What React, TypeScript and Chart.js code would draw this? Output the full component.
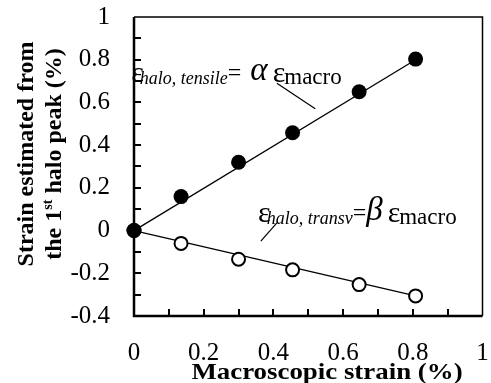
import React, { useEffect, useRef } from "react";
import { Chart, registerables } from "chart.js";

Chart.register(...registerables);

// ---- data ----
const macroStrain = [0, 0.135, 0.3, 0.455, 0.646, 0.808];
const tensileStrain = [0, 0.159, 0.32, 0.458, 0.65, 0.803];
const transvStrain = [0, -0.06, -0.134, -0.184, -0.253, -0.306];
const fitX = [0, 0.808];
const tensileFit = [0, 0.8];
const transvFit = [0, -0.306];
const xMin = 0, xMax = 1, xStep = 0.2;
const yMin = -0.4, yMax = 1, yStep = 0.2;
const minorStep = 0.1;

const xTitle = "Macroscopic strain (%)";
const yTitleLine1 = "Strain estimated from";
const yTitleLine2 = ["the 1", "st", " halo peak (%)"];

// annotation anchors (data units) and leader lines (data units)
const tensileLabelAt = [-0.008, 0.696];
const tensileLeader = [[0.41, 0.69], [0.52, 0.57]];
const transvLabelAt = [0.356, 0.04];
const transvLeader = [[0.364, -0.049], [0.41, 0.036]];

const SERIF = "'Liberation Serif', 'Times New Roman', serif";

function fmt(v: number) {
  const r = Math.round(v * 10) / 10;
  return Math.abs(r) < 1e-9 ? "0" : String(r);
}

function drawEquation(ctx: CanvasRenderingContext2D, x: number, y: number, sub: string, greek: string, greekGap: number) {
  ctx.save();
  ctx.fillStyle = "#000";
  ctx.textBaseline = "alphabetic";
  ctx.textAlign = "left";
  let cx = x;
  ctx.font = `30px ${SERIF}`;
  ctx.fillText("ε", cx, y);
  cx += ctx.measureText("ε").width - 4;
  ctx.font = `italic 18px ${SERIF}`;
  ctx.fillText(sub, cx, y + 2);
  cx += ctx.measureText(sub).width;
  ctx.font = `24px ${SERIF}`;
  ctx.fillText("=", cx, y - 2);
  cx += ctx.measureText("=").width + greekGap;
  ctx.font = `italic 33px ${SERIF}`;
  ctx.fillText(greek, cx, y - 2);
  cx += ctx.measureText(greek).width + 5;
  ctx.font = `30px ${SERIF}`;
  ctx.fillText("ε", cx, y);
  cx += ctx.measureText("ε").width - 1;
  ctx.font = `23px ${SERIF}`;
  ctx.fillText("macro", cx, y + 2);
  ctx.restore();
}

const decorPlugin = {
  id: "decor",
  beforeDatasetsDraw(chart: any) {
    const ctx: CanvasRenderingContext2D = chart.ctx;
    const { left, right, top, bottom } = chart.chartArea;
    const xs = chart.scales.x;
    const ys = chart.scales.y;
    ctx.save();
    ctx.strokeStyle = "#000";
    ctx.lineWidth = 2;
    const nx = Math.round((xMax - xMin) / minorStep);
    for (let i = 1; i < nx; i++) {
      const px = Math.round(xs.getPixelForValue(xMin + i * minorStep));
      ctx.beginPath();
      ctx.moveTo(px, bottom);
      ctx.lineTo(px, bottom - 7);
      ctx.stroke();
    }
    const ny = Math.round((yMax - yMin) / minorStep);
    for (let i = 1; i < ny; i++) {
      const py = Math.round(ys.getPixelForValue(yMin + i * minorStep));
      ctx.beginPath();
      ctx.moveTo(left, py);
      ctx.lineTo(left + 7, py);
      ctx.stroke();
    }
    ctx.lineWidth = 1.5;
    ctx.beginPath();
    ctx.moveTo(left, top);
    ctx.lineTo(right, top);
    ctx.lineTo(right, bottom);
    ctx.stroke();
    ctx.lineWidth = 2.5;
    ctx.beginPath();
    ctx.moveTo(left, top);
    ctx.lineTo(left, bottom);
    ctx.lineTo(right, bottom);
    ctx.stroke();

    ctx.lineWidth = 1.2;
    for (const seg of [tensileLeader, transvLeader]) {
      ctx.beginPath();
      ctx.moveTo(xs.getPixelForValue(seg[0][0]), ys.getPixelForValue(seg[0][1]));
      ctx.lineTo(xs.getPixelForValue(seg[1][0]), ys.getPixelForValue(seg[1][1]));
      ctx.stroke();
    }
    ctx.restore();

    drawEquation(ctx, xs.getPixelForValue(tensileLabelAt[0]), ys.getPixelForValue(tensileLabelAt[1]), "halo, tensile", "α", 9);
    drawEquation(ctx, xs.getPixelForValue(transvLabelAt[0]), ys.getPixelForValue(transvLabelAt[1]), "halo, transv", "β", 0);
  },
  afterDraw(chart: any) {
    const ctx: CanvasRenderingContext2D = chart.ctx;
    ctx.save();
    ctx.fillStyle = "#000";
    ctx.font = `bold 24px ${SERIF}`;
    ctx.textAlign = "center";
    ctx.textBaseline = "alphabetic";
    ctx.save();
    ctx.translate(327, 379);
    ctx.scale(1.12, 1);
    ctx.fillText(xTitle, 0, 0);
    ctx.restore();

    const cy = 154;
    ctx.translate(33, cy);
    ctx.rotate(-Math.PI / 2);
    ctx.fillText(yTitleLine1, 0, 0);
    ctx.font = `bold 24px ${SERIF}`;
    const w1 = ctx.measureText(yTitleLine2[0]).width;
    const w3 = ctx.measureText(yTitleLine2[2]).width;
    ctx.font = `bold 14px ${SERIF}`;
    const w2 = ctx.measureText(yTitleLine2[1]).width;
    let sx = -(w1 + w2 + w3) / 2;
    ctx.textAlign = "left";
    ctx.font = `bold 24px ${SERIF}`;
    ctx.fillText(yTitleLine2[0], sx, 28);
    sx += w1;
    ctx.font = `bold 14px ${SERIF}`;
    ctx.fillText(yTitleLine2[1], sx, 28 - 9);
    sx += w2;
    ctx.font = `bold 24px ${SERIF}`;
    ctx.fillText(yTitleLine2[2], sx, 28);
    ctx.restore();
  },
};

export default function App() {
  const ref = useRef<HTMLCanvasElement | null>(null);
  useEffect(() => {
    if (!ref.current) return;
    const chart = new Chart(ref.current, {
      type: "scatter",
      data: {
        datasets: [
          {
            label: "tensile",
            data: macroStrain.map((x, i) => ({ x, y: tensileStrain[i] })),
            showLine: false,
            pointRadius: 7.5,
            pointBackgroundColor: "#000",
            pointBorderColor: "#000",
            pointBorderWidth: 0,
            clip: false,
            order: 0,
          },
          {
            label: "transverse",
            data: macroStrain.map((x, i) => ({ x, y: transvStrain[i] })),
            showLine: false,
            pointRadius: 6.5,
            pointBackgroundColor: "#fff",
            pointBorderColor: "#000",
            pointBorderWidth: 2,
            clip: false,
            order: 1,
          },
          {
            label: "tensile fit",
            data: fitX.map((x, i) => ({ x, y: tensileFit[i] })),
            showLine: true,
            borderColor: "#000",
            borderWidth: 1.3,
            pointRadius: 0,
            clip: false,
            order: 2,
          },
          {
            label: "transverse fit",
            data: fitX.map((x, i) => ({ x, y: transvFit[i] })),
            showLine: true,
            borderColor: "#000",
            borderWidth: 1.3,
            pointRadius: 0,
            clip: false,
            order: 3,
          },
        ],
      },
      options: {
        animation: false,
        responsive: false,
        maintainAspectRatio: false,
        events: [],
        layout: { padding: { left: 0, right: 3, top: 17, bottom: 0 } },
        plugins: { legend: { display: false }, tooltip: { enabled: false } },
        scales: {
          x: {
            type: "linear",
            min: xMin,
            max: xMax,
            ticks: { stepSize: xStep, color: "#000", font: { family: SERIF, size: 25 }, padding: 22, maxRotation: 0, callback: (v: any) => fmt(Number(v)) },
            grid: { display: false, drawTicks: false },
            border: { display: false },
            afterFit: (s: any) => { s.height = 67; s.paddingLeft = 0; s.paddingRight = 0; },
          },
          y: {
            type: "linear",
            min: yMin,
            max: yMax,
            ticks: { stepSize: yStep, color: "#000", font: { family: SERIF, size: 25 }, padding: 24, callback: (v: any) => fmt(Number(v)) },
            grid: { display: false, drawTicks: false },
            border: { display: false },
            afterFit: (s: any) => { s.width = 134; s.paddingTop = 0; s.paddingBottom = 0; },
          },
        },
      },
      plugins: [decorPlugin],
    });
    return () => chart.destroy();
  }, []);
  return (
    <div style={{ position: "fixed", left: 0, top: 0, width: 491, height: 383, background: "#fff" }}>
      <canvas ref={ref} width={491} height={383} style={{ width: 491, height: 383 }} />
    </div>
  );
}
